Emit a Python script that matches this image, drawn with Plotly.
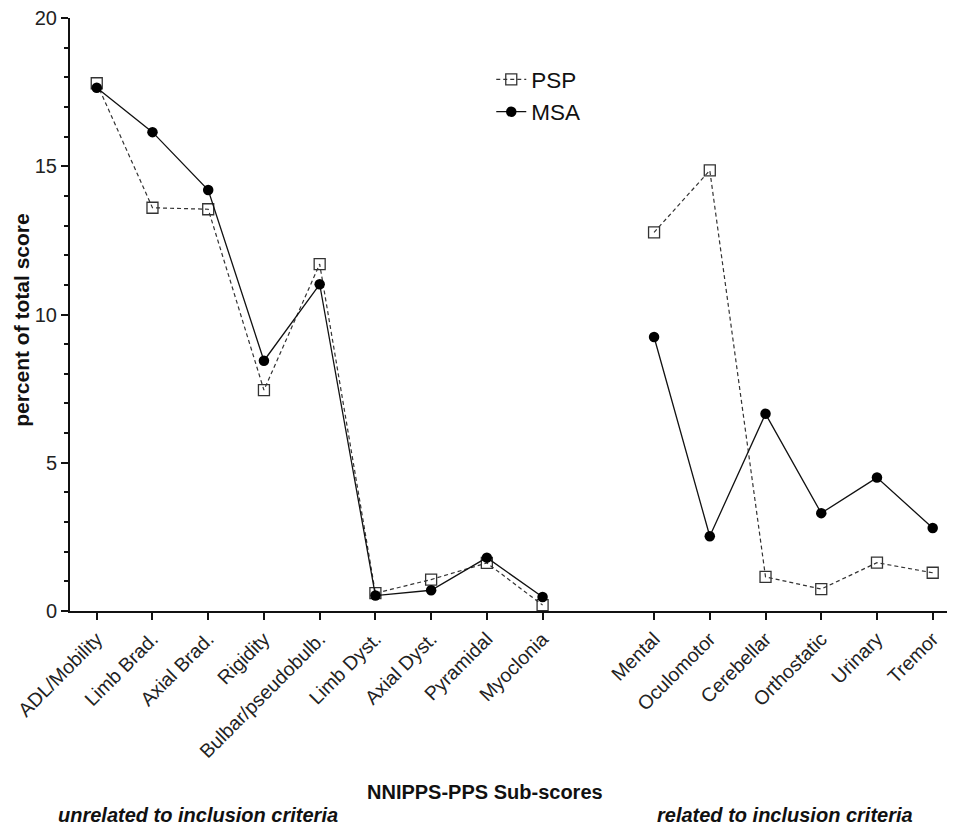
import plotly.graph_objects as go

# sub-score names, two groups separated by an empty slot on the axis
unrelated = ['ADL/Mobility', 'Limb Brad.', 'Axial Brad.', 'Rigidity', 'Bulbar/pseudobulb.',
             'Limb Dyst.', 'Axial Dyst.', 'Pyramidal', 'Myoclonia']
related = ['Mental', 'Oculomotor', 'Cerebellar', 'Orthostatic', 'Urinary', 'Tremor']

# percent of total score
psp_unrel = [17.8, 13.6, 13.55, 7.45, 11.7, 0.6, 1.06, 1.62, 0.2]
psp_rel = [12.77, 14.86, 1.15, 0.74, 1.63, 1.29]
msa_unrel = [17.65, 16.15, 14.2, 8.44, 11.02, 0.52, 0.7, 1.8, 0.47]
msa_rel = [9.24, 2.52, 6.65, 3.3, 4.5, 2.8]

gap = 1
pos_unrel = list(range(len(unrelated)))
pos_rel = [len(unrelated) + gap + i for i in range(len(related))]

font = 'Liberation Sans, Arial, sans-serif'

fig = go.Figure()

# PSP - dashed line, open squares (each group drawn separately, no line across the gap)
for i, (xs, ys) in enumerate([(pos_unrel, psp_unrel), (pos_rel, psp_rel)]):
    fig.add_trace(go.Scatter(
        x=xs, y=ys, mode='lines+markers', name='PSP', legendgroup='PSP',
        showlegend=(i == 0),
        line=dict(color='#333333', width=1.2, dash='4px,3px'),
        marker=dict(symbol='square-open', size=11, color='#333333', line=dict(width=1.3))
    ))

# MSA - solid line, filled circles
for i, (xs, ys) in enumerate([(pos_unrel, msa_unrel), (pos_rel, msa_rel)]):
    fig.add_trace(go.Scatter(
        x=xs, y=ys, mode='lines+markers', name='MSA', legendgroup='MSA',
        showlegend=(i == 0),
        line=dict(color='#111111', width=1.3),
        marker=dict(symbol='circle', size=10.5, color='#000000')
    ))

# page body has an 8px margin, so the figure is a bit smaller than the window
fig.update_layout(
    width=947, height=818,
    margin=dict(l=62, r=0, t=10, b=215),
    plot_bgcolor='white', paper_bgcolor='white',
    font=dict(family=font, color='#111111'),
    xaxis=dict(
        range=[-0.48, 15.4],
        tickvals=pos_unrel + pos_rel, ticktext=unrelated + related,
        tickangle=-45, tickfont=dict(size=19.5, color='#222222'),
        showline=True, linecolor='#111111', linewidth=2,
        ticks='outside', ticklen=7, tickwidth=2, tickcolor='#111111',
        showgrid=False, zeroline=False
    ),
    yaxis=dict(
        range=[0, 20], tickvals=[0, 5, 10, 15, 20],
        tickfont=dict(size=20, color='#222222'), ticklabeloverflow='allow',
        showline=True, linecolor='#111111', linewidth=2,
        ticks='outside', ticklen=7, tickwidth=2, tickcolor='#111111',
        minor=dict(dtick=1, ticks='outside', ticklen=4, tickwidth=1.5, tickcolor='#111111'),
        showgrid=False, zeroline=False
    ),
    legend=dict(
        x=0.476, y=0.932, xanchor='left', yanchor='top',
        font=dict(size=22.5, color='#111111'), bgcolor='rgba(0,0,0,0)',
        tracegroupgap=0, itemwidth=30
    ),
    annotations=[
        dict(text='<b>percent of total score</b>', xref='paper', yref='paper',
             x=(14 - 62) / 885, y=0.491, xanchor='center', yanchor='middle',
             textangle=-90, showarrow=False, font=dict(size=21, color='#111111')),
        dict(text='<b>NNIPPS-PPS Sub-scores</b>', xref='paper', yref='paper',
             x=(485 - 70) / 885, y=-0.305, xanchor='center', yanchor='middle',
             showarrow=False, font=dict(size=20, color='#111111')),
        dict(text='<b><i>unrelated to inclusion criteria</i></b>', xref='paper', yref='paper',
             x=(56 - 70) / 885, y=-0.344, xanchor='left', yanchor='middle',
             showarrow=False, font=dict(size=20, color='#111111')),
        dict(text='<b><i>related to inclusion criteria</i></b>', xref='paper', yref='paper',
             x=(655 - 70) / 885, y=-0.344, xanchor='left', yanchor='middle',
             showarrow=False, font=dict(size=20, color='#111111')),
    ]
)

fig.write_html('out.html')
